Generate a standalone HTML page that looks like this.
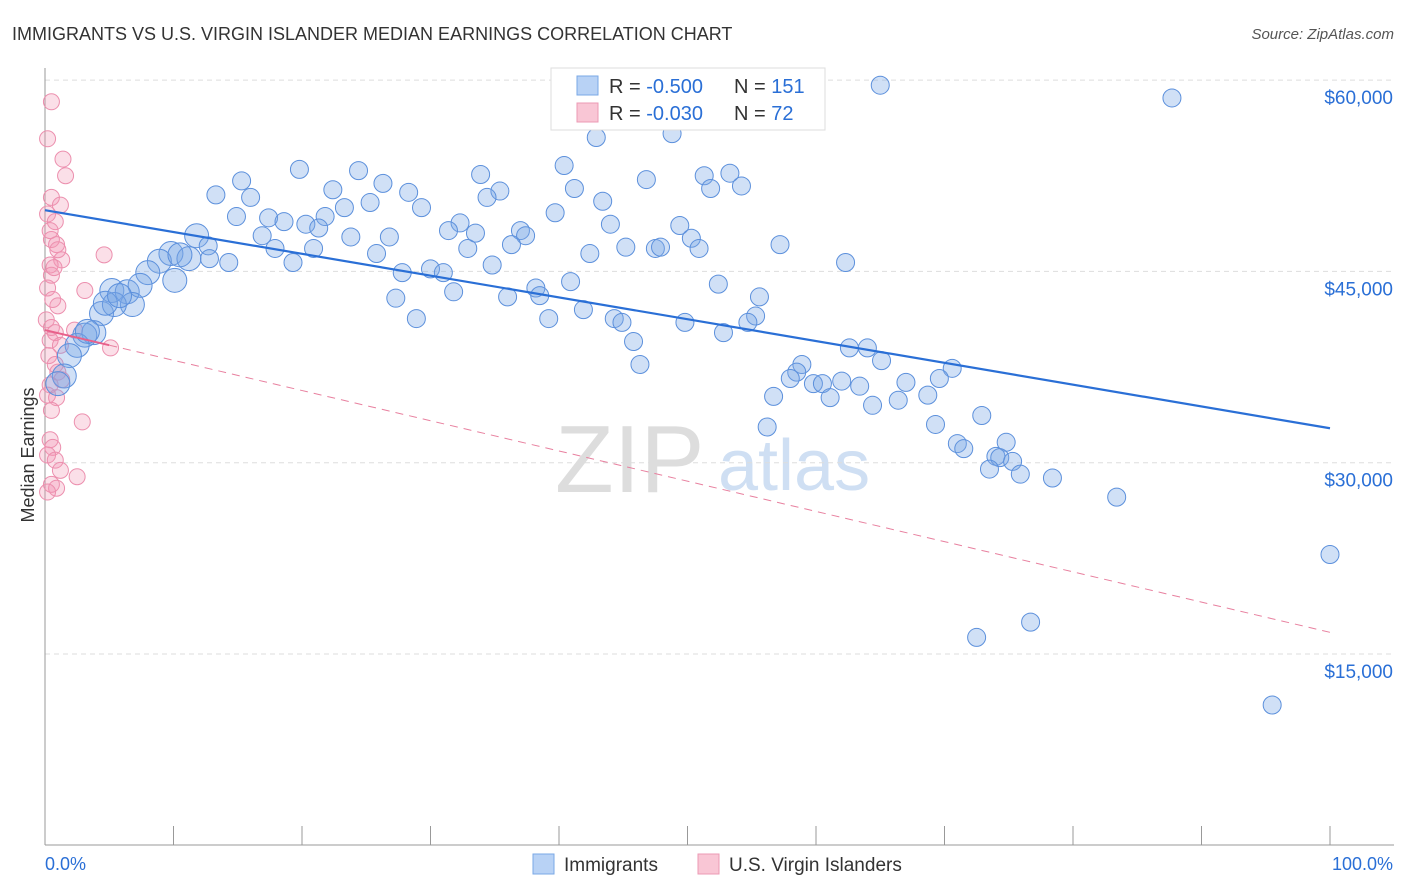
<!DOCTYPE html>
<html><head><meta charset="utf-8"><style>
body{margin:0;background:#fff;font-family:"Liberation Sans",sans-serif;}
#wrap{position:relative;width:1406px;height:892px;overflow:hidden;}
svg text{font-family:"Liberation Sans",sans-serif;}
</style></head><body>
<div id="wrap">
<svg id="chart" width="1406" height="892">
<text x="12" y="40" font-size="18" fill="#333">IMMIGRANTS VS U.S. VIRGIN ISLANDER MEDIAN EARNINGS CORRELATION CHART</text>
<text x="1394" y="39" font-size="15" fill="#555" text-anchor="end" font-style="italic">Source: ZipAtlas.com</text>
<text x="34" y="455" font-size="18" fill="#333" text-anchor="middle" transform="rotate(-90 34 455)">Median Earnings</text>
<text x="555" y="492" font-size="96" fill="#ddd" font-family="Liberation Serif">ZIP</text>
<text x="718" y="490" font-size="72" fill="#cfdff3">atlas</text>
<g id="grid"></g><g id="axes"></g><g id="pink"></g><g id="blue"></g><g id="lines"></g>
<g>
<rect x="551" y="68" width="274" height="62" fill="#fff" stroke="#ddd"/>
<rect x="577" y="76" width="21" height="19" fill="#b8d2f5" stroke="#7aa8e6"/>
<rect x="577" y="103" width="21" height="19" fill="#f9c6d5" stroke="#ec9ab4"/>
<text x="609" y="93" font-size="20" fill="#333">R = <tspan fill="#2a6fd6">-0.500</tspan></text>
<text x="734" y="93" font-size="20" fill="#333">N = <tspan fill="#2a6fd6">151</tspan></text>
<text x="609" y="120" font-size="20" fill="#333">R = <tspan fill="#2a6fd6">-0.030</tspan></text>
<text x="734" y="120" font-size="20" fill="#333">N = <tspan fill="#2a6fd6"> 72</tspan></text>
</g>
<g>
<rect x="533" y="854" width="21" height="20" fill="#b8d2f5" stroke="#7aa8e6"/>
<text x="564" y="871" font-size="19" fill="#333">Immigrants</text>
<rect x="698" y="854" width="21" height="20" fill="#f9c6d5" stroke="#ec9ab4"/>
<text x="729" y="871" font-size="19" fill="#333">U.S. Virgin Islanders</text>
</g>
<text x="45" y="870" font-size="18" fill="#2a6fd6">0.0%</text>
<text x="1393" y="870" font-size="18" fill="#2a6fd6" text-anchor="end">100.0%</text>
</svg>
</div>
<script>
const yTicks=[15000,30000,45000,60000];
const yTickLabels=["$15,000","$30,000","$45,000","$60,000"];
const xTicks=[0,10,20,30,40,50,60,70,80,90,100];
const blueX=[65.0,87.7,48.8,42.9,40.4,19.8,24.4,15.3,26.3,33.9,13.3,16.0,22.4,28.3,35.4,41.2,46.8,51.3,53.3,51.8,54.2,34.4,43.4,29.3,25.3,23.3,14.9,17.4,18.6,20.3,21.8,32.3,39.7,44.0,49.4,11.8,16.9,21.3,23.8,26.8,31.4,33.5,37.0,37.4,50.3,12.7,17.9,20.9,25.8,32.9,36.3,42.4,45.2,47.5,47.9,50.9,57.2,9.8,8.9,11.2,14.3,19.3,27.8,30.0,31.0,34.8,62.3,8.0,10.1,31.8,40.9,38.2,52.4,27.3,36.0,38.5,55.6,5.2,6.4,7.4,6.8,41.9,28.9,39.2,44.3,44.9,49.8,55.3,54.7,4.4,5.4,3.8,3.1,52.8,45.8,62.6,64.0,65.1,70.6,58.9,46.3,58.5,2.5,1.9,1.5,1.0,58.0,67.0,69.6,59.8,60.5,62.0,63.4,56.7,61.1,68.7,66.4,64.4,72.9,69.3,56.2,71.0,71.5,74.8,74.0,74.3,75.3,73.5,75.9,78.4,83.4,100,76.7,72.5,95.5,3.3,4.7,5.8,12.8,10.5];
const blueY=[59.6,58.6,55.8,55.5,53.3,53.0,52.9,52.1,51.9,52.6,51.0,50.8,51.4,51.2,51.3,51.5,52.2,52.5,52.7,51.5,51.7,50.8,50.5,50.0,50.4,50.0,49.3,49.2,48.9,48.7,49.3,48.8,49.6,48.7,48.6,47.8,47.8,48.4,47.7,47.7,48.2,48.0,48.2,47.8,47.6,47.0,46.8,46.8,46.4,46.8,47.1,46.4,46.9,46.8,46.9,46.8,47.1,46.4,45.8,46.0,45.7,45.7,44.9,45.2,44.9,45.5,45.7,44.9,44.3,43.4,44.2,43.7,44.0,42.9,43.0,43.1,43.0,43.5,43.4,43.9,42.4,42.0,41.3,41.3,41.3,41.0,41.0,41.5,41.0,41.7,42.4,40.2,40.0,40.2,39.5,39.0,39.0,38.0,37.4,37.7,37.7,37.1,39.2,38.4,36.8,36.2,36.6,36.3,36.6,36.2,36.2,36.4,36.0,35.2,35.1,35.3,34.9,34.5,33.7,33.0,32.8,31.5,31.1,31.6,30.5,30.4,30.1,29.5,29.1,28.8,27.3,22.8,17.5,16.3,11.0,40.3,42.5,43.1,46.0,46.3];
const pinkX=[0.5,0.2,1.4,1.6,0.5,1.2,0.2,0.8,0.5,0.9,1.3,0.4,0.5,0.2,3.1,0.6,1.0,0.1,0.5,0.8,0.4,1.2,2.3,4.6,5.1,0.3,0.8,1.0,1.3,0.4,0.2,0.9,0.5,2.9,0.4,0.6,0.2,0.8,1.2,2.5,0.5,0.9,0.2,0.7,0.4,1.0];
const pinkY=[58.3,55.4,53.8,52.5,50.8,50.2,49.5,48.9,47.5,47.1,45.9,45.5,44.7,43.7,43.5,42.8,42.3,41.2,40.6,40.2,39.6,39.2,40.4,46.3,39.0,38.4,37.7,37.1,36.5,36.1,35.3,35.1,34.1,33.2,31.8,31.2,30.6,30.2,29.4,28.9,28.3,28.0,27.7,45.3,48.2,46.7];
const blueTrend=[49.8,32.7];
const pinkTrend=[40.4,16.7];
const NS="http://www.w3.org/2000/svg";
function xs(p){return 45+p*12.85;}
function ys(v){return 654-(v-15000)*191.3/15000;}
function mk(tag,attrs,parent){const e=document.createElementNS(NS,tag);for(const k in attrs)e.setAttribute(k,attrs[k]);parent.appendChild(e);return e;}
const grid=document.getElementById('grid'),axes=document.getElementById('axes');
yTicks.forEach((t,i)=>{
 const l=mk('line',{x1:45,x2:1394,y1:ys(t),y2:ys(t),stroke:'#ddd','stroke-dasharray':'5,4'},grid);
 
 
 const tx=mk('text',{x:1393,y:ys(t)+24,'font-size':19,fill:'#2a6fd6','text-anchor':'end'},axes);
 tx.textContent=yTickLabels[i];
 
 
});
const ya=mk('line',{x1:45,x2:45,y1:68,y2:845,stroke:'#999'},axes);


const xa=mk('line',{x1:45,x2:1394,y1:845,y2:845,stroke:'#999'},axes);


xTicks.forEach(t=>{
 const l=mk('line',{x1:xs(t),x2:xs(t),y1:826,y2:845,stroke:'#999'},axes);
 
 
});
const pg=document.getElementById('pink');
pinkX.forEach((x,i)=>{
 const c=mk('circle',{cx:xs(x),cy:ys(pinkY[i]*1000),r:8,fill:'rgba(242,150,180,0.3)',stroke:'#ec8fae','stroke-width':1},pg);
 
 
});
const bg=document.getElementById('blue');
blueX.forEach((x,i)=>{
 const c=mk('circle',{cx:xs(x),cy:ys(blueY[i]*1000),r:x<12?12:9,fill:'rgba(120,165,230,0.35)',stroke:'#5c90dc','stroke-width':1},bg);
 
 
});
const lg=document.getElementById('lines');
const bl=mk('line',{x1:xs(0),y1:ys(blueTrend[0]*1000),x2:xs(100),y2:ys(blueTrend[1]*1000),stroke:'#2a6fd6','stroke-width':2.2},lg);


const py5=pinkTrend[0]+(pinkTrend[1]-pinkTrend[0])*0.05;
const pl=mk('line',{x1:xs(0),y1:ys(pinkTrend[0]*1000),x2:xs(5),y2:ys(py5*1000),stroke:'#e8608a','stroke-width':2},lg);


const pd=mk('line',{x1:xs(5),y1:ys(py5*1000),x2:xs(100),y2:ys(pinkTrend[1]*1000),stroke:'#e8809f','stroke-width':1,'stroke-dasharray':'8,6'},lg);


</script>
</body></html>
